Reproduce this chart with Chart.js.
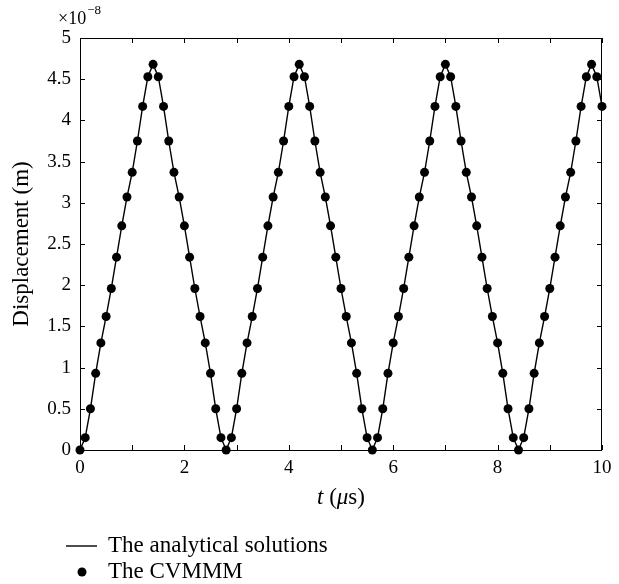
<!doctype html>
<html lang="en">
  <head>
    <meta charset="UTF-8" />
    <title>Displacement vs time</title>
    <script src="https://cdn.jsdelivr.net/npm/chart.js"></script>
    <style>
      html, body { margin: 0; padding: 0; background: #fff; }
      #wrap { width: 619px; height: 584px; position: relative; }
    </style>
  </head>
  <body>
    <div id="wrap"><canvas id="disp-chart"></canvas></div>
    <script>
      // time in microseconds
      const times = [
        0, 0.1, 0.2, 0.3, 0.4, 0.5, 0.6, 0.7, 0.8, 0.9,
        1, 1.1, 1.2, 1.3, 1.4, 1.5, 1.6, 1.7, 1.8, 1.9,
        2, 2.1, 2.2, 2.3, 2.4, 2.5, 2.6, 2.7, 2.8, 2.9,
        3, 3.1, 3.2, 3.3, 3.4, 3.5, 3.6, 3.7, 3.8, 3.9,
        4, 4.1, 4.2, 4.3, 4.4, 4.5, 4.6, 4.7, 4.8, 4.9,
        5, 5.1, 5.2, 5.3, 5.4, 5.5, 5.6, 5.7, 5.8, 5.9,
        6, 6.1, 6.2, 6.3, 6.4, 6.5, 6.6, 6.7, 6.8, 6.9,
        7, 7.1, 7.2, 7.3, 7.4, 7.5, 7.6, 7.7, 7.8, 7.9,
        8, 8.1, 8.2, 8.3, 8.4, 8.5, 8.6, 8.7, 8.8, 8.9,
        9, 9.1, 9.2, 9.3, 9.4, 9.5, 9.6, 9.7, 9.8, 9.9,
        10
      ];

      // displacement in units of 1e-8 m
      const displacement = [
        0, 0.15, 0.5, 0.93, 1.3, 1.62, 1.96, 2.34, 2.72, 3.07,
        3.37, 3.75, 4.17, 4.53, 4.68, 4.53, 4.17, 3.75, 3.37, 3.07,
        2.72, 2.34, 1.96, 1.62, 1.3, 0.93, 0.5, 0.15, 0, 0.15,
        0.5, 0.93, 1.3, 1.62, 1.96, 2.34, 2.72, 3.07, 3.37, 3.75,
        4.17, 4.53, 4.68, 4.53, 4.17, 3.75, 3.37, 3.07, 2.72, 2.34,
        1.96, 1.62, 1.3, 0.93, 0.5, 0.15, 0, 0.15, 0.5, 0.93,
        1.3, 1.62, 1.96, 2.34, 2.72, 3.07, 3.37, 3.75, 4.17, 4.53,
        4.68, 4.53, 4.17, 3.75, 3.37, 3.07, 2.72, 2.34, 1.96, 1.62,
        1.3, 0.93, 0.5, 0.15, 0, 0.15, 0.5, 0.93, 1.3, 1.62,
        1.96, 2.34, 2.72, 3.07, 3.37, 3.75, 4.17, 4.53, 4.68, 4.53,
        4.17
      ];

      const seriesLabels = ['The analytical solutions', 'The CVMMM'];

      const FONT = '"Liberation Serif", "DejaVu Serif", serif';
      const TITLE_SIZE = 23;
      Chart.defaults.font.family = FONT;
      Chart.defaults.font.size = 19;
      Chart.defaults.color = '#000';

      const points = times.map((t, i) => ({ x: t, y: displacement[i] }));

      // frame, inward ticks, exponent, x title and legend
      const decorations = {
        id: 'decorations',
        afterDraw(chart) {
          const ctx = chart.ctx;
          const { left, right, top, bottom } = chart.chartArea;
          const xs = chart.scales.x, ys = chart.scales.y;
          const tl = 5;
          ctx.save();
          ctx.strokeStyle = '#000';
          ctx.lineWidth = 1;
          ctx.beginPath();
          ctx.rect(left + 0.5, top + 0.5, right - left - 1, bottom - top);
          xs.ticks.forEach(t => {
            const px = Math.round(xs.getPixelForValue(t.value)) + 0.5;
            ctx.moveTo(px, bottom); ctx.lineTo(px, bottom - tl);
            ctx.moveTo(px, top); ctx.lineTo(px, top + tl);
          });
          ys.ticks.forEach(t => {
            const py = Math.round(ys.getPixelForValue(t.value)) + 0.5;
            ctx.moveTo(left, py); ctx.lineTo(left + tl, py);
            ctx.moveTo(right, py); ctx.lineTo(right - tl, py);
          });
          ctx.stroke();

          // exponent
          ctx.fillStyle = '#000';
          ctx.textBaseline = 'alphabetic';
          ctx.textAlign = 'left';
          ctx.font = '18px ' + FONT;
          ctx.fillText('\u00d710', 58, 24);
          const w10 = ctx.measureText('\u00d710').width;
          ctx.font = '13px ' + FONT;
          ctx.fillText('\u22128', 58 + w10 + 1, 14);

          // x axis title: t (μs)
          const parts = [['t', 'italic'], [' (', 'normal'], ['\u03bc', 'italic'], ['s)', 'normal']];
          let total = 0;
          parts.forEach(p => { ctx.font = p[1] + ' ' + TITLE_SIZE + 'px ' + FONT; total += ctx.measureText(p[0]).width; });
          let cx = (left + right) / 2 - total / 2;
          ctx.textBaseline = 'middle';
          parts.forEach(p => {
            ctx.font = p[1] + ' ' + TITLE_SIZE + 'px ' + FONT;
            ctx.fillText(p[0], cx, 498);
            cx += ctx.measureText(p[0]).width;
          });

          // legend
          const ds = chart.data.datasets;
          ctx.font = TITLE_SIZE + 'px ' + FONT;
          ctx.beginPath();
          ctx.lineWidth = ds[0].borderWidth;
          ctx.moveTo(66, 546); ctx.lineTo(97, 546);
          ctx.stroke();
          ctx.fillText(ds[0].label, 108, 546);
          ctx.beginPath();
          ctx.arc(82, 572, ds[1].pointRadius, 0, Math.PI * 2);
          ctx.fill();
          ctx.fillText(ds[1].label, 108, 572);
          ctx.restore();
        }
      };

      const ctx = document.getElementById('disp-chart').getContext('2d');
      const dispChart = new Chart(ctx, {
        type: 'line',
        data: {
          datasets: [
            {
              label: seriesLabels[0],
              data: points,
              borderColor: '#000',
              borderWidth: 1.4,
              pointRadius: 0,
              tension: 0,
              clip: false,
              order: 2
            },
            {
              label: seriesLabels[1],
              data: points,
              showLine: false,
              pointRadius: 4.5,
              pointBackgroundColor: '#000',
              pointBorderWidth: 0,
              clip: false,
              order: 1
            }
          ]
        },
        options: {
          responsive: true,
          maintainAspectRatio: false,
          animation: false,
          layout: { padding: { top: 38, right: 17, bottom: 0, left: 0 } },
          plugins: {
            legend: { display: false },
            tooltip: { enabled: false }
          },
          scales: {
            x: {
              type: 'linear',
              min: 0,
              max: 10,
              grid: { display: false, drawTicks: false },
              border: { display: false },
              ticks: {
                stepSize: 1,
                autoSkip: false,
                maxRotation: 0,
                padding: 7,
                callback: v => (v % 2 === 0 ? String(v) : '')
              },
              afterFit: s => { s.height = 134; }
            },
            y: {
              min: 0,
              max: 5,
              grid: { display: false, drawTicks: false },
              border: { display: false },
              ticks: {
                stepSize: 0.5,
                padding: 9,
                callback: v => String(Number(v.toFixed(1)))
              },
              title: {
                display: true,
                text: 'Displacement (m)',
                font: { size: TITLE_SIZE },
                padding: { top: 8 }
              },
              afterFit: s => { s.width = 80; }
            }
          }
        },
        plugins: [decorations]
      });
    </script>
  </body>
</html>
